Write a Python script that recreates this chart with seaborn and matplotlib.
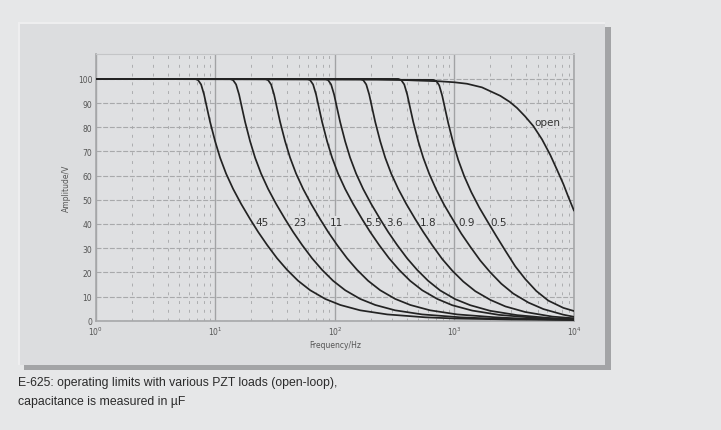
import numpy as np
import pandas as pd
import matplotlib
matplotlib.use("Agg")
import matplotlib.pyplot as plt
from matplotlib.patches import Rectangle
from matplotlib.ticker import LogLocator, NullFormatter
from matplotlib import font_manager
import seaborn as sns

# ---- data (frequency in Hz, amplitude in V) ----
f45 = [1, 6.78, 7.18, 7.61, 8.06, 8.54, 9.05, 9.97, 10.97, 12.32, 14.10, 16.45, 19.57,
       22.84, 27.15, 32.88, 39.91, 49.30, 62.18, 83.1, 111.1, 162.5, 274, 571, 1018,
       3000, 10000]
a45 = [100, 100, 99.5, 97.7, 93.5, 87.8, 82.2, 74.2, 67.4, 60.8, 54.5, 48.3, 42,
       36.7, 31.3, 25.8, 21, 16.5, 12.6, 9, 6.5, 4.3, 2.6, 1.4, 0.9,
       0.5, 0.3]

f23 = [1, 13.3, 14.09, 14.93, 15.82, 16.76, 17.76, 19.55, 21.53, 24.17, 27.66, 32.27, 38.38,
       44.80, 53.25, 64.50, 78.29, 96.71, 122.0, 163.0, 217.9, 318.8, 537, 1120, 1996,
       10000]
a23 = [100, 100, 99.5, 97.7, 93.5, 87.8, 82.2, 74.2, 67.4, 60.8, 54.5, 48.3, 42,
       36.7, 31.3, 25.8, 21, 16.5, 12.6, 9, 6.5, 4.3, 2.6, 1.4, 0.9,
       0.4]

f11 = [1, 26.1, 27.65, 29.30, 31.04, 32.89, 34.85, 38.36, 42.25, 47.43, 54.29, 63.33, 75.32,
       87.91, 104.5, 126.6, 153.6, 189.8, 239.4, 319.9, 427.5, 625.6, 1054, 2198, 3918,
       10000]
a11 = [100, 100, 99.5, 97.7, 93.5, 87.8, 82.2, 74.2, 67.4, 60.8, 54.5, 48.3, 42,
       36.7, 31.3, 25.8, 21, 16.5, 12.6, 9, 6.5, 4.3, 2.6, 1.4, 0.8,
       0.4]

f55 = [1, 58.6, 62.09, 65.78, 69.70, 73.85, 78.24, 86.14, 94.86, 106.5, 121.9, 142.2, 169.1,
       197.4, 234.6, 284.2, 345.0, 426.1, 537.5, 718.3, 959.9, 1405, 2367, 4934, 10000]
a55 = [100, 100, 99.5, 97.7, 93.5, 87.8, 82.2, 74.2, 67.4, 60.8, 54.5, 48.3, 42,
       36.7, 31.3, 25.8, 21, 16.5, 12.6, 9, 6.4, 4.2, 2.4, 1.1, 0.6]

f36 = [1, 82.9, 87.83, 93.06, 98.60, 104.5, 110.7, 121.9, 134.2, 150.7, 172.4, 201.2, 239.3,
       279.2, 331.9, 402.0, 488.0, 602.8, 760.3, 1016, 1358, 1987, 3349, 6980, 10000]
a36 = [100, 100, 99.5, 97.7, 93.5, 87.8, 82.2, 74.2, 67.4, 60.8, 54.5, 48.3, 42,
       36.7, 31.3, 25.8, 21, 16.5, 12.5, 8.9, 6.4, 4.1, 2.3, 0.9, 0.6]

f18 = [1, 163, 172.7, 183.0, 193.9, 205.4, 217.6, 239.6, 263.8, 296.2, 339.0, 395.5, 470.4,
       549.0, 652.6, 790.5, 959.5, 1185, 1495, 1998, 2670, 3907, 6585, 10000]
a18 = [100, 100, 99.5, 97.7, 93.5, 87.8, 82.2, 74.2, 67.4, 60.8, 54.5, 48.3, 42,
       36.7, 31.2, 25.5, 20.7, 16.2, 12.2, 8.6, 5.9, 3.6, 1.7, 1.0]

f09 = [1, 339, 359.2, 380.6, 403.2, 427.2, 452.6, 498.3, 548.7, 616.1, 705.1, 822.6, 978.4,
       1142, 1357, 1644, 1995, 2465, 3109, 4155, 5553, 8126, 10000]
a09 = [100, 100, 99.5, 97.7, 93.5, 87.8, 82.2, 74.2, 67.4, 60.7, 54.2, 47.8, 41.5,
       36, 30.6, 24.9, 20, 15.3, 11.2, 7.5, 4.8, 2.5, 1.6]

f05 = [1, 665, 704.6, 746.5, 790.9, 838, 888, 977.5, 1076, 1209, 1383, 1614, 1919,
       2240, 2662, 3225, 3915, 4835, 6099, 8152, 10000]
a05 = [100, 99.6, 99.2, 97.3, 93, 87.3, 81.7, 73.5, 66.5, 59.7, 53.2, 46.8, 40.5,
       35, 29, 22.5, 17.2, 12.3, 8.3, 5.3, 4.0]

fopen = [1, 200, 352, 500, 760, 1000, 1273, 1700, 2420, 2900, 3335, 3900, 4570, 5400,
         6340, 7200, 8150, 9000, 10000]
aopen = [100, 100, 99.6, 99.3, 99, 98.6, 98, 96.5, 93, 90.5, 88, 84.5, 80.5, 75,
         68.5, 62.5, 56.5, 51, 45.5]

series_names = ["45", "23", "11", "5.5", "3.6", "1.8", "0.9", "0.5", "open"]
series_f = [f45, f23, f11, f55, f36, f18, f09, f05, fopen]
series_a = [a45, a23, a11, a55, a36, a18, a09, a05, aopen]

# label anchor positions (frequency, amplitude)
label_f = [21.6, 44.8, 91.5, 179, 268, 517, 1075, 1990, 4650]
label_a = [41, 41, 41, 41, 41, 41, 41, 41, 82]

y_ticks = [0, 10, 20, 30, 40, 50, 60, 70, 80, 90, 100]
x_ticks = [1, 10, 100, 1000, 10000]
x_ticklabels = [r"$10^0$", r"$10^1$", r"$10^2$", r"$10^3$", r"$10^4$"]

caption1 = "E-625: operating limits with various PZT loads (open-loop),"
caption2 = "capacitance is measured in µF"

rows = []
for name, fs, As in zip(series_names, series_f, series_a):
    for f, a in zip(fs, As):
        rows.append({"load": name, "freq": f, "amp": a})
df = pd.DataFrame(rows)

# ---- styling ----
sns.set_theme(style="white")
plt.rcParams["font.family"] = ["DejaVu Sans"]

W, H = 721, 431
fig = plt.figure(figsize=(W / 100, H / 100), dpi=100)
fig.patch.set_facecolor("#e6e7e8")

def px_rect(x0, y0, x1, y1, **kw):
    return Rectangle((x0 / W, 1 - y1 / H), (x1 - x0) / W, (y1 - y0) / H,
                     transform=fig.transFigure, **kw)

# panel shadow and panel
fig.patches.append(px_rect(24, 28, 611, 371, facecolor="#a3a4a6", edgecolor="none", zorder=0))
fig.patches.append(px_rect(18, 23, 605, 366, facecolor="#eeeeef", edgecolor="none", zorder=0))
fig.patches.append(px_rect(20, 25, 605, 366, facecolor="#dcdddf", edgecolor="none", zorder=0))

ax_l, ax_r = 95.7, 574
ax_t, ax_b = 55, 321.7
ax = fig.add_axes([ax_l / W, 1 - ax_b / H, (ax_r - ax_l) / W, (ax_b - ax_t) / H])
ax.set_zorder(3)
ax.set_facecolor("#dfe0e2")

palette = {n: "#232323" for n in series_names}
sns.lineplot(data=df, x="freq", y="amp", hue="load", palette=palette,
             estimator=None, sort=True, legend=False, linewidth=1.25, ax=ax, zorder=5)
for ln in ax.get_lines():
    ln.set_solid_joinstyle("round")

ax.set_xscale("log")
ax.set_xlim(1, 10000)
ax.set_ylim(0, 110.3)

ax.set_xticks(x_ticks)
ax.set_xticklabels(x_ticklabels)
ax.xaxis.set_minor_locator(LogLocator(base=10, subs=np.arange(2, 10)))
ax.xaxis.set_minor_formatter(NullFormatter())
ax.set_yticks(y_ticks)
ax.set_yticklabels([str(v) for v in y_ticks])

ax.grid(False)
ax.grid(True, which="major", axis="x", color="#a2a3a5", linewidth=1.0, linestyle="-", zorder=1)
ax.grid(True, which="minor", axis="x", color="#acadaf", linewidth=0.7,
        linestyle=(0, (3, 6)), zorder=1)
ax.grid(True, which="major", axis="y", color="#a8a9ab", linewidth=0.8,
        linestyle=(0, (4.5, 1.5)), zorder=1)
ax.set_axisbelow(True)

for side in ["left", "bottom", "right", "top"]:
    ax.spines[side].set_visible(True)
    ax.spines[side].set_color("#a6a7a9")
    ax.spines[side].set_linewidth(1.2)
ax.spines["top"].set_color("#c4c5c7")
ax.spines["top"].set_linewidth(0.8)

ax.tick_params(axis="both", which="both", length=0, labelsize=5.5, colors="#555555")
ax.tick_params(axis="y", pad=2.5)
ax.tick_params(axis="x", pad=3)

ax.set_xlabel("Frequency/Hz", fontsize=5.5, color="#555555", labelpad=2)
ax.set_ylabel("Amplitude/V", fontsize=5.5, color="#555555", labelpad=5)

for name, lf, la in zip(series_names, label_f, label_a):
    ax.text(lf, la, name, fontsize=7.5, color="#333333",
            fontweight="normal",
            ha="left", va="center", zorder=4,
            bbox=dict(boxstyle="square,pad=0.05", facecolor="#dfe0e2", edgecolor="none"))

# caption: pick a narrow font if available
names = {f.name for f in font_manager.fontManager.ttflist}
if "Liberation Sans Narrow" in names:
    cap_kw = dict(family=["Liberation Sans Narrow", "DejaVu Sans"], fontsize=9.5)
else:
    cap_kw = dict(family=["Liberation Sans", "DejaVu Sans"], fontsize=8.8)

fig.text(18 / W, 1 - 383 / H, caption1, color="#2a2a2a", ha="left", va="center", **cap_kw)
fig.text(18 / W, 1 - 402 / H, caption2, color="#2a2a2a", ha="left", va="center", **cap_kw)

fig.savefig("out.png", dpi=100, facecolor=fig.get_facecolor())
